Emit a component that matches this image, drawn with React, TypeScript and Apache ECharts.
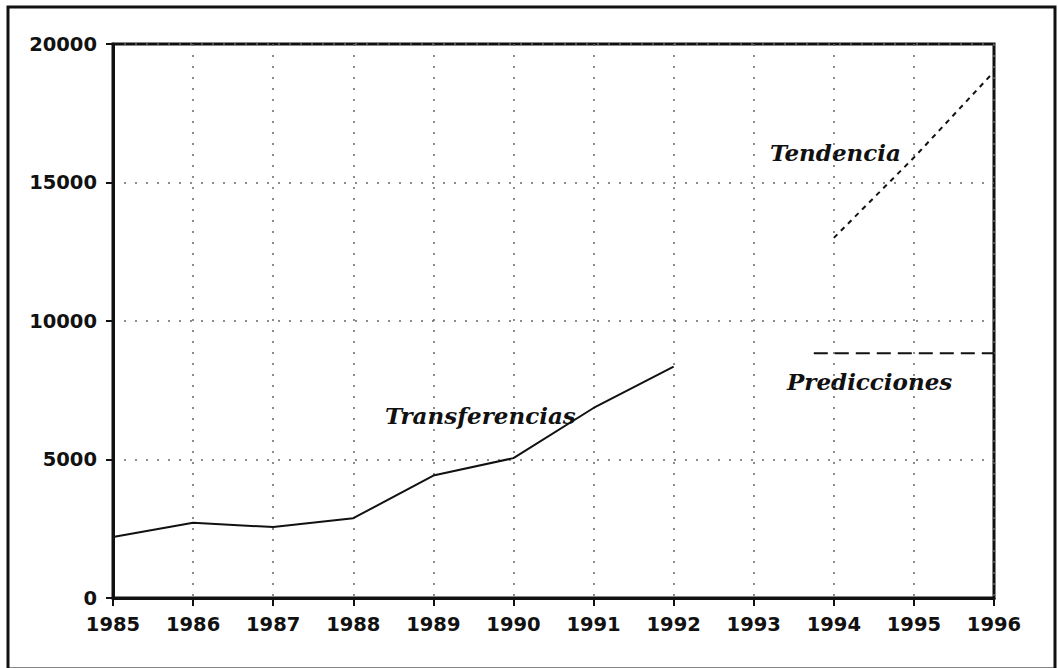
import React, { useEffect, useRef } from "react";
import * as echarts from "echarts";

const years = [1985, 1986, 1987, 1988, 1989, 1990, 1991, 1992, 1993, 1994, 1995, 1996];
const transferenciasYears = [1985, 1986, 1987, 1988, 1989, 1990, 1991, 1992];
const transferenciasValues = [2200, 2720, 2560, 2880, 4420, 5050, 6860, 8350];
const tendenciaYears = [1994, 1995, 1996];
const tendenciaValues = [13000, 15900, 19000];
const prediccionesYears = [1993.75, 1996];
const prediccionesValues = [8840, 8840];
const yTicks = [0, 5000, 10000, 15000, 20000];

export default function App() {
  const ref = useRef<HTMLDivElement>(null);
  useEffect(() => {
    if (!ref.current) return;
    const chart = echarts.init(ref.current, null, { renderer: "svg" });
    const labelFont = { fontFamily: "DejaVu Sans", fontWeight: "bold", fontSize: 19.5, color: "#111" };
    const noteStyle = {
      fill: "#111",
      font: "italic bold 23px 'DejaVu Serif'",
      textVerticalAlign: "middle",
    };
    chart.setOption({
      animation: false,
      backgroundColor: "#fff",
      grid: {
        left: 113,
        top: 44,
        right: 64,
        bottom: 70,
        show: true,
        borderColor: "#111",
        borderWidth: 3,
        backgroundColor: "transparent",
      },
      xAxis: {
        type: "value",
        min: years[0],
        max: years[years.length - 1],
        interval: 1,
        axisLine: { show: true, lineStyle: { color: "#111", width: 3 } },
        axisTick: { show: true, length: 8, lineStyle: { color: "#111", width: 2 } },
        axisLabel: { ...labelFont, margin: 16, formatter: (v: number) => String(v) },
        splitLine: { show: true, lineStyle: { color: "#666", width: 1.5, type: [2, 9] } },
      },
      yAxis: {
        type: "value",
        min: yTicks[0],
        max: yTicks[yTicks.length - 1],
        interval: 5000,
        axisLine: { show: true, lineStyle: { color: "#111", width: 3 } },
        axisTick: { show: true, length: 7, lineStyle: { color: "#111", width: 2 } },
        axisLabel: { ...labelFont, margin: 16, formatter: (v: number) => String(v) },
        splitLine: { show: true, lineStyle: { color: "#666", width: 1.5, type: [2, 9] } },
      },
      series: [
        {
          name: "Transferencias",
          type: "line",
          data: transferenciasYears.map((y, i) => [y, transferenciasValues[i]]),
          showSymbol: false,
          lineStyle: { color: "#111", width: 2 },
        },
        {
          name: "Tendencia",
          type: "line",
          data: tendenciaYears.map((y, i) => [y, tendenciaValues[i]]),
          showSymbol: false,
          lineStyle: { color: "#111", width: 2, type: [5, 5] },
        },
        {
          name: "Predicciones",
          type: "line",
          data: prediccionesYears.map((y, i) => [y, prediccionesValues[i]]),
          showSymbol: false,
          lineStyle: { color: "#111", width: 2, type: [14, 7] },
        },
      ],
      graphic: [
        {
          type: "rect",
          shape: { x: 8, y: 7, width: 1047, height: 662 },
          style: { fill: "none", stroke: "#111", lineWidth: 3 },
          silent: true,
        },
        { type: "text", x: 385, y: 415, style: { ...noteStyle, text: "Transferencias" } },
        { type: "text", x: 770, y: 152, style: { ...noteStyle, text: "Tendencia" } },
        { type: "text", x: 787, y: 381, style: { ...noteStyle, text: "Predicciones" } },
      ],
    });
    return () => chart.dispose();
  }, []);
  return (
    <div
      ref={ref}
      style={{ position: "fixed", left: 0, top: 0, width: 1058, height: 668, background: "#fff" }}
    />
  );
}
